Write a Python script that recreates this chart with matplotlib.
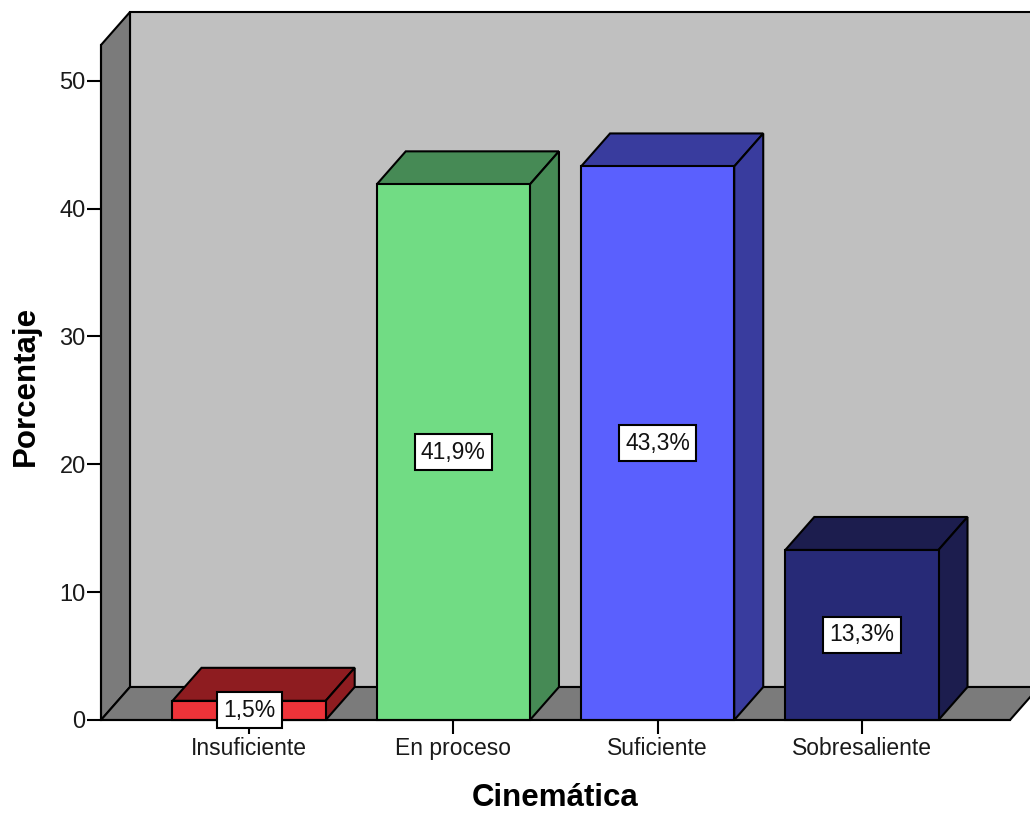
import matplotlib
matplotlib.use("Agg")
import matplotlib.pyplot as plt
from matplotlib.patches import Polygon
from matplotlib.transforms import IdentityTransform
import numpy as np

# Data
categories = ["Insuficiente", "En proceso", "Suficiente", "Sobresaliente"]
percentages = [1.5, 41.9, 43.3, 13.3]
value_labels = ["1,5%", "41,9%", "43,3%", "13,3%"]
yticks = [0, 10, 20, 30, 40, 50]

# Styles
front_colors = ["#ee3339", "#71dc84", "#5a60fe", "#272a77"]
shade_colors = ["#8e1c20", "#468a55", "#393c9e", "#1c1d4e"]
WALL_BACK = "#c0c0c0"
WALL_SIDE = "#7b7b7b"
BAR_WIDTH = 0.75
DEPTH_X, DEPTH_Y = 29, 33      # depth offset of the 3D box, in pixels
DPI = 100

plt.rcParams["font.family"] = ["Liberation Sans", "DejaVu Sans"]

fig = plt.figure(figsize=(10.30, 8.16), dpi=DPI)
ax = fig.add_axes([101 / 1030, 96 / 816, 909 / 1030, 675 / 816])
ax.set_xlim(-0.725, len(categories) - 1 + 0.725)
ax.set_ylim(0, 52.8)
ax.set_facecolor("none")

fig.canvas.draw()
to_disp = ax.transData.transform


def poly(points, color, z):
    p = Polygon(points, closed=True, facecolor=color, edgecolor="black",
                linewidth=1.5, joinstyle="miter", transform=IdentityTransform(),
                clip_on=False, zorder=z)
    ax.add_patch(p)


def shifted(pt):
    return (pt[0] + DEPTH_X, pt[1] + DEPTH_Y)


x0, x1 = ax.get_xlim()
y0, y1 = ax.get_ylim()
bl, br = to_disp((x0, y0)), to_disp((x1, y0))
tl, tr = to_disp((x0, y1)), to_disp((x1, y1))

# back wall, left wall, floor
poly([shifted(bl), shifted(br), shifted(tr), shifted(tl)], WALL_BACK, 0.1)
poly([bl, tl, shifted(tl), shifted(bl)], WALL_SIDE, 0.2)
poly([bl, br, shifted(br), shifted(bl)], WALL_SIDE, 0.2)

# 3D bars
xs = np.arange(len(categories))
for i, (x, v) in enumerate(zip(xs, percentages)):
    fbl = to_disp((x - BAR_WIDTH / 2, 0))
    fbr = to_disp((x + BAR_WIDTH / 2, 0))
    ftl = to_disp((x - BAR_WIDTH / 2, v))
    ftr = to_disp((x + BAR_WIDTH / 2, v))
    poly([ftl, ftr, shifted(ftr), shifted(ftl)], shade_colors[i], 0.3)
    poly([fbr, ftr, shifted(ftr), shifted(fbr)], shade_colors[i], 0.3)
    poly([fbl, fbr, ftr, ftl], front_colors[i], 0.4)
    ax.text(x, v / 2, value_labels[i], ha="center", va="center",
            fontsize=16.5, color="#111111", zorder=6, clip_on=False,
            bbox=dict(boxstyle="square,pad=0.28", facecolor="white",
                      edgecolor="black", linewidth=1.5))

# axes
for s in ["top", "right"]:
    ax.spines[s].set_visible(False)
for s in ["left", "bottom"]:
    ax.spines[s].set_linewidth(1.5)
    ax.spines[s].set_zorder(0.5)
ax.set_yticks(yticks)
ax.set_xticks(xs)
ax.set_xticklabels(categories)
ax.tick_params(axis="both", direction="out", length=10, width=1.5,
               labelsize=16.5, labelcolor="#1a1a1a")
ax.tick_params(axis="y", pad=1, labelsize=17)
ax.tick_params(axis="x", pad=2)

ax.text(-75 / 909, 0.495, "Porcentaje", rotation=90, ha="center", va="center",
        fontsize=22.5, fontweight="bold", transform=ax.transAxes)
ax.text(0.4995, -0.116, "Cinemática", ha="center", va="center",
        fontsize=22.5, fontweight="bold", transform=ax.transAxes)

fig.savefig("out.png", dpi=DPI)
